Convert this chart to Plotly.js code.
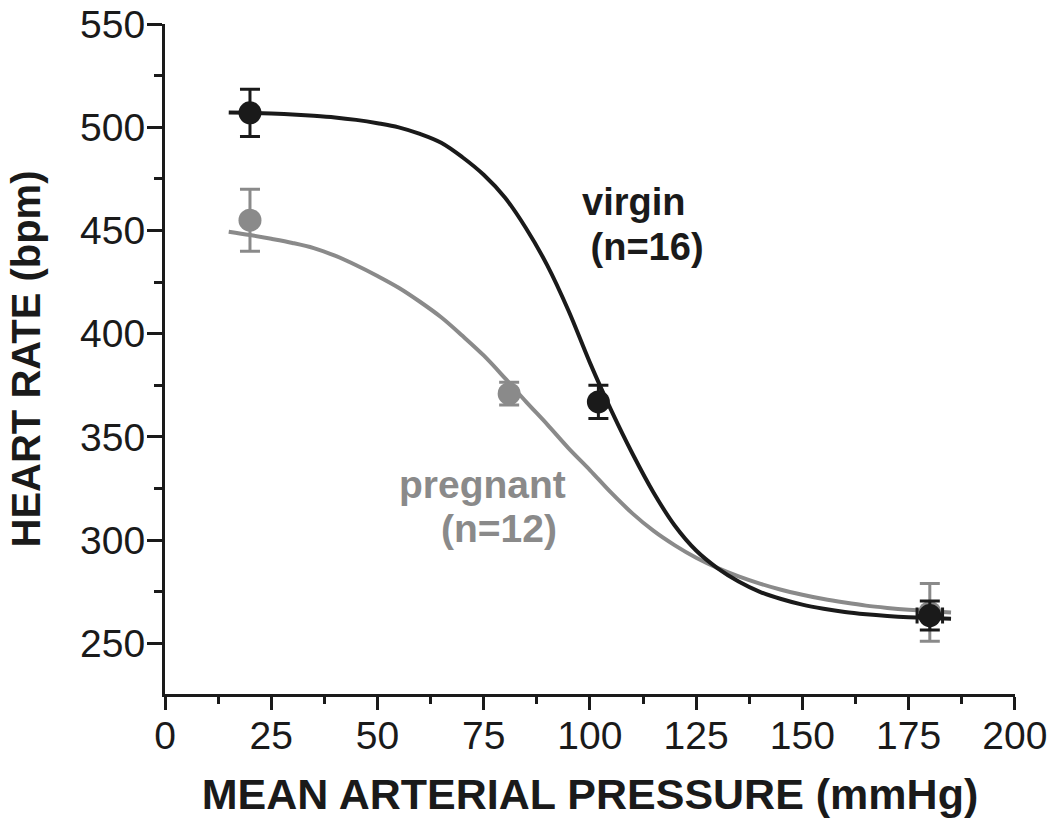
<!DOCTYPE html>
<html>
<head>
<meta charset="utf-8">
<script src="https://cdn.plot.ly/plotly-3.0.1.min.js"></script>
<style>
  html, body { margin: 0; padding: 0; background: #ffffff; }
  #chart { width: 1050px; height: 824px; }
</style>
</head>
<body>
<div id="chart"></div>
<script>
// ---- Data ----
// Measured points (mean ± error)
const virginX = [20, 102, 180];
const virginY = [507, 367, 263.5];
const virginErrY = [11.5, 8, 7];
const virginErrX = [0, 0, 3];

const pregnantX = [20, 81, 180];
const pregnantY = [455, 371, 265];
const pregnantErrY = [15, 5.5, 14];

// Fitted curves (values read every 5 mmHg)
const curveX = [15, 20, 25, 30, 35, 40, 45, 50, 55, 60, 65, 70, 75, 80, 85, 90, 95, 100,
                105, 110, 115, 120, 125, 130, 135, 140, 145, 150, 155, 160, 165, 170, 175, 180, 185];
const virginCurveY = [507.2, 507.0, 506.7, 506.2, 505.6, 504.8, 503.6, 502.0, 500.0, 496.8,
                      492.5, 485.5, 477.0, 466.0, 451.0, 433.0, 411.0, 386.0, 363.0, 342.0,
                      323.0, 307.0, 295.0, 286.5, 280.0, 275.0, 271.5, 268.8, 266.8, 265.2,
                      264.1, 263.3, 262.7, 262.3, 262.0];
const pregnantCurveY = [449.4, 447.8, 446.0, 444.0, 441.5, 437.8, 433.2, 428.0, 422.3, 415.5,
                        408.0, 399.0, 389.5, 378.5, 367.0, 356.0, 344.5, 334.0, 323.0, 313.0,
                        304.5, 297.5, 291.5, 286.6, 282.5, 279.0, 276.0, 273.6, 271.5, 269.8,
                        268.3, 267.2, 266.3, 265.6, 265.0];

// Labels
const xTitle = 'MEAN ARTERIAL PRESSURE (mmHg)';
const yTitle = 'HEART RATE (bpm)';
const virginLabel = ['virgin', ' (n=16)'];
const pregnantLabel = ['pregnant', '(n=12)'];

// ---- Styling ----
const BLACK = '#1a1a1a';
const GRAY = '#8a8a8a';
const FONT = 'Liberation Sans, Arial, sans-serif';

const traces = [
  {
    x: curveX, y: pregnantCurveY, type: 'scatter', mode: 'lines',
    line: { color: GRAY, width: 4, shape: 'spline', smoothing: 1 },
    hoverinfo: 'skip'
  },
  {
    x: curveX, y: virginCurveY, type: 'scatter', mode: 'lines',
    line: { color: BLACK, width: 4, shape: 'spline', smoothing: 1 },
    hoverinfo: 'skip'
  },
  {
    x: pregnantX, y: pregnantY, type: 'scatter', mode: 'markers',
    marker: { color: GRAY, size: 23 },
    error_y: { type: 'data', array: pregnantErrY, visible: true, color: GRAY, thickness: 3, width: 10 }
  },
  {
    x: virginX, y: virginY, type: 'scatter', mode: 'markers',
    marker: { color: BLACK, size: 23 },
    error_y: { type: 'data', array: virginErrY, visible: true, color: BLACK, thickness: 3, width: 10 },
    error_x: { type: 'data', array: virginErrX, visible: true, color: BLACK, thickness: 3, width: 8 }
  }
];

const layout = {
  width: 1050, height: 824,
  margin: { l: 165, r: 35, t: 24, b: 130, pad: 0 },
  paper_bgcolor: '#ffffff', plot_bgcolor: '#ffffff',
  showlegend: false,
  font: { family: FONT, color: BLACK },
  xaxis: {
    range: [0, 200.05], dtick: 25, tick0: 0,
    showgrid: false, zeroline: false,
    showline: true, linecolor: BLACK, linewidth: 3,
    ticks: 'outside', ticklen: 13, tickwidth: 3, tickcolor: BLACK,
    minor: { dtick: 12.5, ticks: 'outside', ticklen: 7, tickwidth: 3, tickcolor: BLACK, showgrid: false },
    tickfont: { family: FONT, size: 39, color: BLACK },
    ticklabelstandoff: -8,
    ticklabeloverflow: 'allow',
    title: { text: '<b>' + xTitle + '</b>', font: { family: FONT, size: 43, color: BLACK }, standoff: 24 }
  },
  yaxis: {
    range: [225.5, 550.05], dtick: 50, tick0: 0,
    showgrid: false, zeroline: false,
    showline: true, linecolor: BLACK, linewidth: 3,
    ticks: 'outside', ticklen: 15, tickwidth: 3, tickcolor: BLACK,
    minor: { dtick: 25, ticks: 'outside', ticklen: 8, tickwidth: 3, tickcolor: BLACK, showgrid: false },
    tickfont: { family: FONT, size: 39, color: BLACK },
    ticklabelstandoff: -6,
    ticklabeloverflow: 'allow',
    title: { text: '<b>' + yTitle + '</b>', font: { family: FONT, size: 40, color: BLACK }, standoff: 28 }
  },
  annotations: [
    { x: 97.6, y: 464, xref: 'x', yref: 'y', text: '<b>' + virginLabel[0] + '</b>', showarrow: false, xanchor: 'left', yanchor: 'middle', font: { family: FONT, size: 38, color: BLACK } },
    { x: 97.2, y: 442, xref: 'x', yref: 'y', text: '<b>' + virginLabel[1] + '</b>', showarrow: false, xanchor: 'left', yanchor: 'middle', font: { family: FONT, size: 38, color: BLACK } },
    { x: 54.5, y: 327, xref: 'x', yref: 'y', text: '<b>' + pregnantLabel[0] + '</b>', showarrow: false, xanchor: 'left', yanchor: 'middle', font: { family: FONT, size: 39, color: GRAY } },
    { x: 64.5, y: 305.5, xref: 'x', yref: 'y', text: '<b>' + pregnantLabel[1] + '</b>', showarrow: false, xanchor: 'left', yanchor: 'middle', font: { family: FONT, size: 39, color: GRAY } }
  ]
};

Plotly.newPlot('chart', traces, layout, { displayModeBar: false, staticPlot: true });
</script>
</body>
</html>
